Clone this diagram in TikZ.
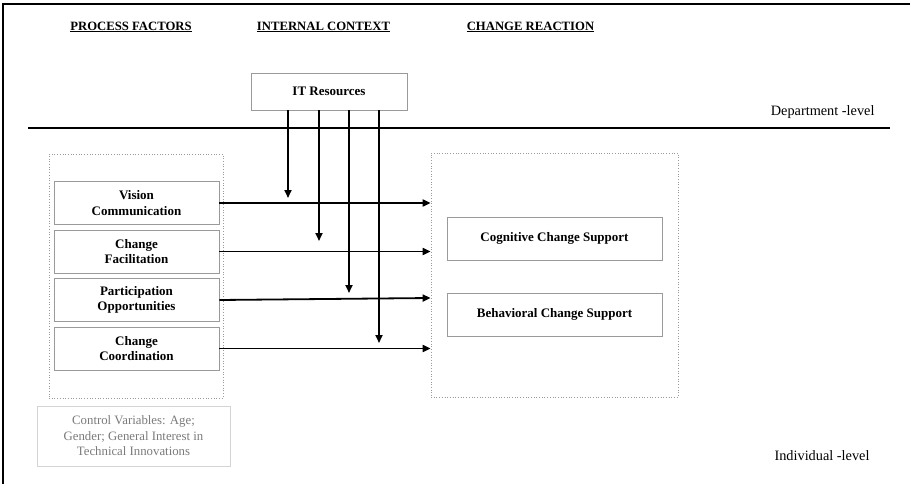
\documentclass[tikz,border=0pt]{standalone}
\usepackage{fontspec}
\setmainfont{Liberation Serif}
\usetikzlibrary{arrows.meta}
\definecolor{boxgray}{HTML}{9A9A9A}
\definecolor{lightgray}{HTML}{D4D4D4}
\definecolor{txtgray}{HTML}{7A7A7A}
\begin{document}
\begin{tikzpicture}[x=1pt,y=-1pt,
  header/.style={font=\fontsize{12.7}{14}\selectfont\bfseries, anchor=center},
  factor/.style={draw=boxgray, line width=0.9pt, minimum width=165pt, minimum height=43pt, inner sep=0pt, align=center, font=\fontsize{13}{15.7}\selectfont\bfseries},
  outcome/.style={draw=boxgray, line width=0.9pt, minimum width=215pt, minimum height=43pt, inner sep=0pt, align=center, font=\fontsize{13}{15.7}\selectfont\bfseries},
  group/.style={draw=boxgray, dotted, line width=0.7pt, inner sep=0pt},
  level/.style={font=\fontsize{14.3}{16}\selectfont, anchor=east},
  arr/.style={line width=1.8pt, -{Triangle[length=8pt,width=7pt]}}]
\useasboundingbox (0,0) rectangle (910,484);
% frame (top and left edges)
\coordinate (fbl) at (3,484);
\coordinate (ftl) at (3,4);
\coordinate (ftr) at (910,4);
\draw[line width=2pt] (fbl) -- (ftl) -- (ftr);
% headers
\node[header] (h1) at (131,27) {\underline{PROCESS FACTORS}};
\node[header] (h2) at (323.5,27) {\underline{INTERNAL CONTEXT}};
\node[header] (h3) at (530.5,27) {\underline{CHANGE REACTION}};
% level separator
\coordinate (sepL) at (28,128);
\coordinate (sepR) at (890,128);
\draw[line width=1.2pt] (sepL) -- (sepR);
\node[level] (dep) at (878,112) {Department -level};
\node[level] (ind) at (873,456) {Individual -level};
% IT resources
\node[draw=boxgray, line width=0.9pt, minimum width=156pt, minimum height=37pt, inner sep=0pt, font=\fontsize{13}{15}\selectfont\bfseries] (it) at (329,91.5) {IT Resources};
% groups
\node[group, minimum width=174pt, minimum height=244pt] (lb) at (136,276) {};
\node[group, minimum width=247pt, minimum height=244pt] (rb) at (554.5,275) {};
% factors
\node[factor] (vc) at (136.5,203) {Vision\\Communication};
\node[factor] (cf) at (136.5,251.5) {Change\\Facilitation};
\node[factor] (po) at (136.5,300) {Participation\\Opportunities};
\node[factor] (cc) at (136.5,348.5) {Change\\Coordination};
% outcomes
\node[outcome] (cog) at (554.5,238.5) {Cognitive Change Support};
\node[outcome] (beh) at (554.5,314.5) {Behavioral Change Support};
% control variables
\node[draw=lightgray, line width=0.9pt, minimum width=193pt, minimum height=60pt, inner sep=0pt, align=center, text=txtgray, font=\fontsize{12.8}{15.5}\selectfont] (ctrl) at (133.5,436) {Control Variables: Age;\\Gender; General Interest in\\Technical Innovations};
% horizontal arrows
\draw[arr] (vc.east) -- (rb.west |- vc.east);
\draw[arr] (cf.east) -- (rb.west |- cf.east);
\coordinate (poend) at (433,298);
\draw[arr] (po.east) -- (rb.west |- poend);
\draw[arr] (cc.east) -- (rb.west |- cc.east);
% vertical arrows
\coordinate (v1) at (288,198);
\coordinate (v2) at (319,241);
\coordinate (v3) at (349,293);
\coordinate (v4) at (379,343);
\draw[arr] (it.south -| v1) -- (v1);
\draw[arr] (it.south -| v2) -- (v2);
\draw[arr] (it.south -| v3) -- (v3);
\draw[arr] (it.south -| v4) -- (v4);
\end{tikzpicture}
\end{document}
